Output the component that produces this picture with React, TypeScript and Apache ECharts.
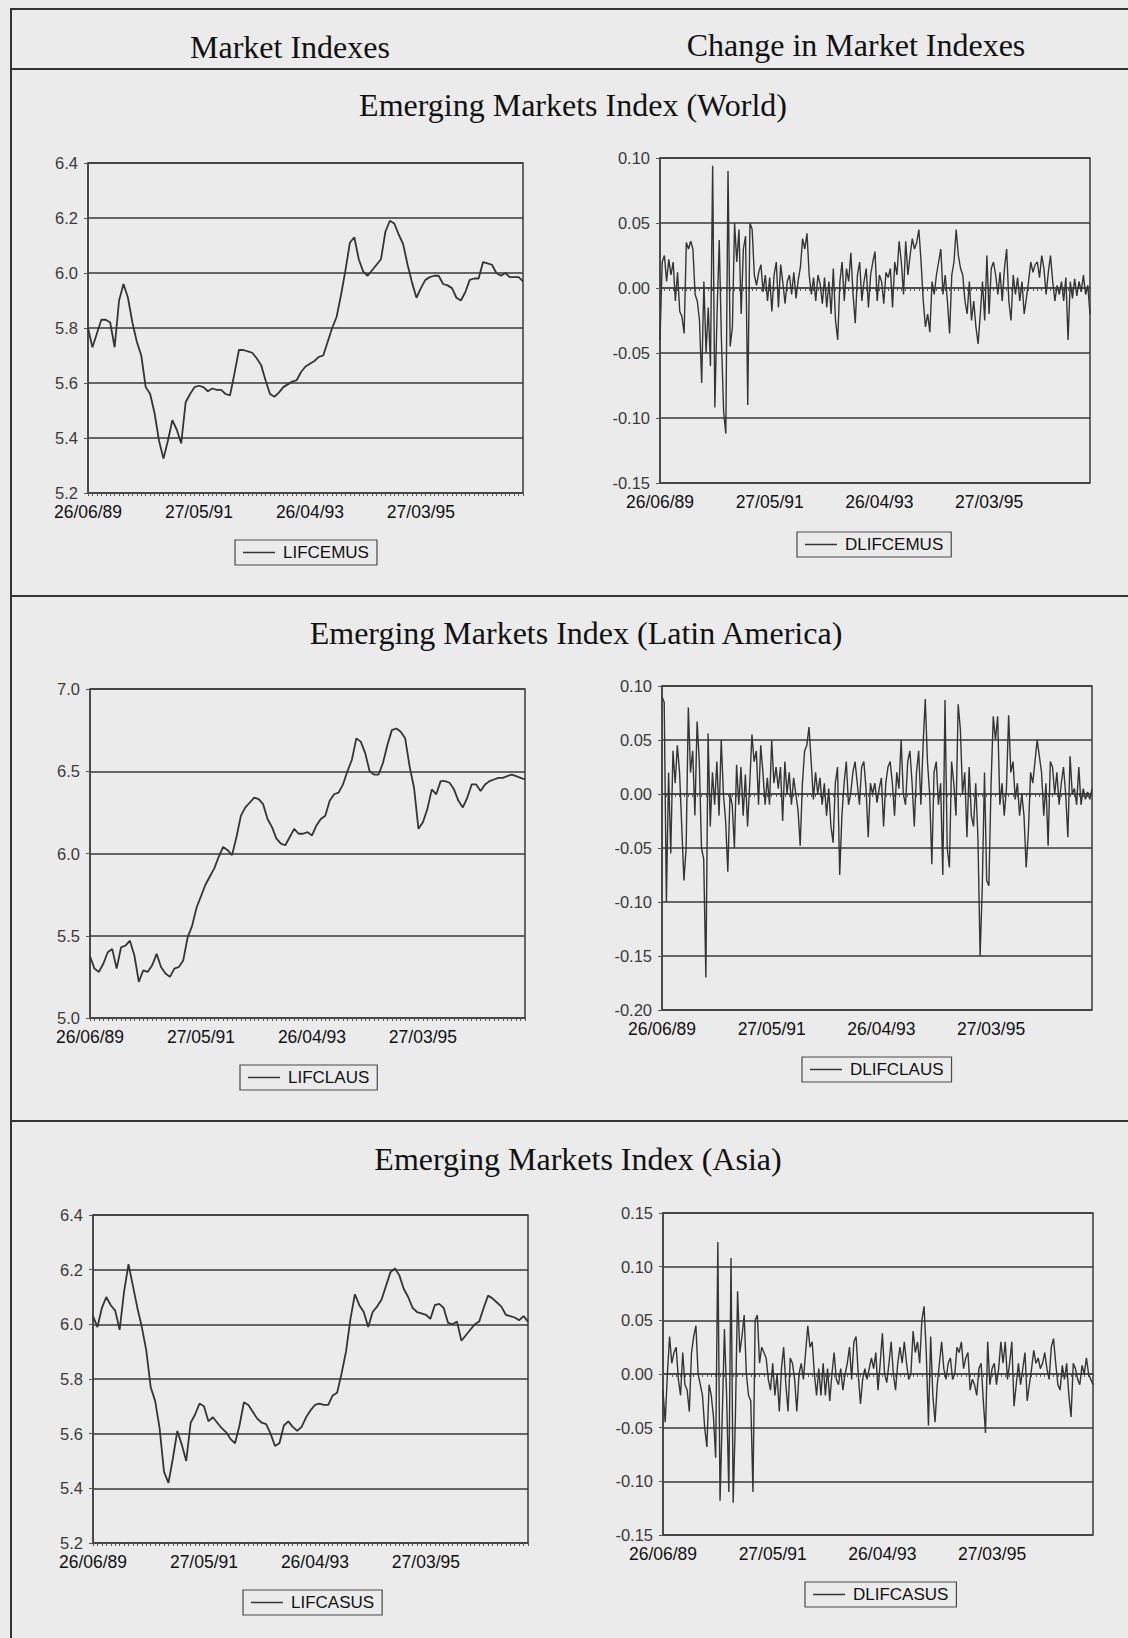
import React, { useEffect, useRef } from "react";
import * as echarts from "echarts";

// ---------- DATA ----------
// Level series: one value every 4 weeks from 26/06/89
const LIFCEMUS = [
  5.80, 5.73, 5.78, 5.83, 5.83, 5.82, 5.73, 5.90, 5.96, 5.91,
  5.82, 5.75, 5.70, 5.585, 5.56, 5.49, 5.39, 5.325, 5.39, 5.465,
  5.43, 5.38, 5.53, 5.56, 5.585, 5.59, 5.585, 5.57, 5.58, 5.575,
  5.575, 5.56, 5.555, 5.635, 5.72, 5.72, 5.715, 5.71, 5.69, 5.665,
  5.61, 5.56, 5.55, 5.565, 5.585, 5.595, 5.605, 5.61, 5.64, 5.66,
  5.67, 5.68, 5.695, 5.70, 5.75, 5.80, 5.84, 5.92, 6.01, 6.11,
  6.13, 6.05, 6.005, 5.99, 6.01, 6.03, 6.05, 6.15, 6.19, 6.18,
  6.14, 6.105, 6.03, 5.965, 5.91, 5.945, 5.975, 5.985, 5.99, 5.99,
  5.96, 5.955, 5.945, 5.91, 5.90, 5.93, 5.975, 5.98, 5.98, 6.04,
  6.035, 6.03, 6.00, 5.99, 6.00, 5.985, 5.985, 5.985, 5.97,
];
const LIFCLAUS = [
  5.375, 5.30, 5.28, 5.33, 5.40, 5.42, 5.30, 5.43, 5.44, 5.47,
  5.38, 5.22, 5.29, 5.28, 5.32, 5.39, 5.31, 5.27, 5.25, 5.30,
  5.31, 5.35, 5.49, 5.56, 5.67, 5.74, 5.81, 5.86, 5.91, 5.98,
  6.04, 6.02, 5.99, 6.10, 6.23, 6.28, 6.31, 6.34, 6.33, 6.30,
  6.21, 6.16, 6.09, 6.06, 6.05, 6.10, 6.15, 6.12, 6.12, 6.13,
  6.11, 6.17, 6.21, 6.23, 6.32, 6.36, 6.37, 6.42, 6.50, 6.57,
  6.70, 6.68, 6.61, 6.50, 6.48, 6.48, 6.55, 6.66, 6.75, 6.76,
  6.74, 6.70, 6.53, 6.40, 6.15, 6.19, 6.27, 6.39, 6.36, 6.44,
  6.44, 6.43, 6.39, 6.32, 6.28, 6.34, 6.42, 6.42, 6.38, 6.42,
  6.44, 6.45, 6.46, 6.46, 6.47, 6.48, 6.47, 6.46, 6.45,
];
const LIFCASUS = [
  6.03, 5.99, 6.06, 6.10, 6.07, 6.05, 5.98, 6.12, 6.22, 6.14,
  6.06, 5.99, 5.905, 5.77, 5.72, 5.62, 5.46, 5.42, 5.51, 5.61,
  5.56, 5.50, 5.64, 5.67, 5.71, 5.70, 5.645, 5.66, 5.64, 5.62,
  5.605, 5.58, 5.565, 5.63, 5.715, 5.705, 5.68, 5.655, 5.64, 5.635,
  5.60, 5.555, 5.565, 5.63, 5.645, 5.625, 5.61, 5.625, 5.66, 5.685,
  5.705, 5.71, 5.705, 5.705, 5.74, 5.75, 5.82, 5.90, 6.02, 6.11,
  6.07, 6.045, 5.99, 6.045, 6.065, 6.09, 6.14, 6.19, 6.205, 6.18,
  6.13, 6.10, 6.06, 6.045, 6.04, 6.035, 6.02, 6.07, 6.075, 6.06,
  6.005, 6.00, 6.01, 5.94, 5.96, 5.98, 6.00, 6.01, 6.06, 6.105,
  6.095, 6.08, 6.065, 6.035, 6.03, 6.025, 6.015, 6.03, 6.01,
];

// Changes: one value every 2 weeks from 26/06/89
const DLIFCEMUS = [
  -0.04, 0.02, 0.025, 0.005, 0.022, 0.01, 0.02, -0.01, 0.012, -0.018,
  -0.022, -0.035, 0.035, 0.03, 0.036, 0.03, -0.005, -0.01, -0.025, -0.073,
  0.005, -0.05, -0.015, -0.06, 0.094, -0.092, -0.02, 0.037, -0.04, -0.095,
  -0.112, 0.09, -0.045, -0.03, 0.05, 0.02, 0.045, -0.02, 0.03, 0.04,
  -0.09, 0.05, 0.045, 0.01, 0.002, 0.012, 0.018, -0.003, 0.01, -0.01,
  0.008, -0.018, 0.01, 0.02, -0.015, 0.018, 0.004, -0.012, 0.005, 0.01,
  -0.005, 0.012, -0.008, 0.006, 0.016, 0.038, 0.03, 0.042, 0.01, -0.005,
  0.008, -0.01, 0.01, 0.003, -0.012, 0.008, -0.015, 0.005, -0.02, 0.015,
  -0.025, -0.04, 0.005, 0.02, -0.01, 0.015, 0.005, 0.027, -0.005, -0.027,
  0.01, 0.02, -0.01, 0.005, 0.015, -0.015, 0.01, 0.02, 0.028, -0.01,
  0.01, 0.005, -0.012, 0.012, 0.008, 0.015, -0.015, 0.02, 0.01, 0.036,
  0.02, -0.005, 0.036, 0.01, 0.025, 0.038, 0.03, 0.035, 0.045, 0.02,
  -0.01, -0.03, -0.02, -0.034, 0.005, -0.005, 0.01, 0.02, 0.03, -0.005,
  0.01, -0.01, -0.035, 0.01, 0.02, 0.045, 0.025, 0.015, 0.01, -0.01,
  -0.02, 0.005, -0.025, -0.01, -0.03, -0.043, -0.02, 0.005, -0.025, 0.025,
  -0.02, 0.015, 0.02, 0.01, -0.005, 0.012, -0.01, 0.015, 0.03, -0.01,
  -0.025, 0.01, -0.005, 0.008, -0.01, 0.005, -0.02, -0.008, 0.005, 0.02,
  0.012, 0.018, 0.02, 0.008, 0.025, 0.015, -0.005, 0.012, 0.025, 0.005,
  -0.01, 0.002, -0.005, 0.005, -0.01, 0.008, -0.04, 0.005, -0.008, 0.007,
  -0.006, 0.005, -0.003, 0.01, -0.005, 0.002, -0.02,
];
const DLIFCLAUS = [
  0.09, 0.085, -0.10, 0.02, -0.055, 0.04, 0.01, 0.045, 0.02, -0.03,
  -0.08, -0.05, 0.08, 0.02, 0.04, -0.02, 0.067, 0.03, -0.05, -0.06,
  -0.17, 0.056, -0.03, 0.02, -0.01, 0.03, -0.02, 0.05, 0.0, -0.025,
  -0.072, 0.0, -0.01, -0.05, 0.027, -0.01, 0.025, -0.02, 0.018, -0.03,
  0.01, 0.055, 0.03, 0.04, -0.01, 0.045, 0.02, -0.01, 0.015, -0.01,
  0.05, 0.01, 0.025, 0.005, 0.025, -0.025, 0.03, 0.0, 0.02, -0.01,
  0.015, 0.0, -0.015, -0.048, 0.01, 0.04, 0.045, 0.062, 0.03, -0.005,
  0.02, 0.0, 0.015, -0.01, 0.01, -0.02, 0.005, -0.03, -0.045, 0.01,
  0.025, -0.075, -0.02, 0.01, 0.03, -0.01, 0.0, 0.02, 0.03, 0.01,
  -0.01, 0.025, 0.03, 0.005, -0.04, 0.01, 0.0, 0.01, -0.008, 0.005,
  0.015, -0.03, 0.01, 0.025, 0.03, 0.01, -0.02, 0.02, 0.005, 0.05,
  0.0, -0.01, 0.03, 0.04, 0.01, -0.03, 0.02, 0.04, -0.01, 0.045,
  0.088, 0.03, 0.0, -0.065, 0.02, 0.03, -0.01, 0.01, -0.075, 0.087,
  -0.05, -0.068, 0.03, 0.01, -0.02, 0.083, 0.06, 0.0, 0.02, -0.04,
  0.025, -0.02, -0.03, 0.01, -0.04, -0.15, -0.085, 0.02, -0.08, -0.085,
  0.01, 0.072, 0.05, 0.072, -0.01, 0.01, -0.02, 0.005, 0.073, 0.02,
  0.03, -0.005, 0.01, -0.02, 0.0, -0.02, -0.068, -0.035, 0.02, 0.01,
  0.03, 0.05, 0.035, 0.02, -0.02, 0.01, -0.048, 0.03, 0.025, 0.0,
  0.02, -0.01, 0.01, 0.025, 0.0, -0.04, 0.035, 0.0, 0.005, -0.01,
  0.025, -0.01, 0.005, -0.005, 0.002, -0.005, 0.005,
];
const DLIFCASUS = [
  -0.015, -0.045, 0.0, 0.035, 0.01, 0.02, 0.025, -0.005, -0.02, 0.02,
  -0.01, -0.015, -0.035, 0.02, 0.035, 0.045, 0.0, -0.01, -0.02, -0.05,
  -0.068, -0.01, -0.02, -0.04, -0.078, 0.123, -0.118, -0.04, 0.042, -0.02,
  -0.11, 0.108, -0.12, -0.04, 0.077, 0.02, 0.035, 0.055, 0.0, -0.02,
  -0.025, -0.11, 0.05, 0.055, 0.01, 0.025, 0.02, 0.015, -0.005, -0.015,
  0.01, -0.02, 0.0, -0.035, 0.005, 0.025, -0.01, -0.035, 0.015, 0.01,
  -0.005, -0.035, 0.0, 0.01, -0.005, 0.02, 0.045, 0.025, 0.03, 0.0,
  -0.02, 0.005, -0.02, 0.01, -0.02, 0.005, -0.025, 0.0, 0.02, -0.005,
  -0.01, 0.005, -0.015, 0.0, 0.01, 0.025, -0.005, 0.03, 0.035, 0.0,
  -0.028, -0.005, 0.005, -0.005, 0.005, 0.015, 0.005, 0.02, -0.015, 0.01,
  0.038, 0.0, -0.008, 0.01, 0.03, 0.0, -0.015, 0.01, 0.025, 0.01,
  0.03, 0.01, -0.005, 0.0, 0.04, 0.02, 0.03, 0.01, 0.05, 0.063,
  0.02, -0.048, 0.035, -0.02, -0.045, -0.01, 0.01, 0.03, 0.005, -0.005,
  0.01, 0.015, -0.005, 0.0, 0.025, 0.02, 0.03, 0.005, 0.015, 0.02,
  -0.015, -0.005, -0.01, -0.02, 0.005, 0.01, -0.025, -0.055, 0.03, -0.01,
  0.005, 0.01, -0.01, 0.005, 0.03, 0.01, 0.03, -0.005, 0.01, 0.03,
  -0.03, -0.01, 0.01, -0.01, 0.005, 0.02, -0.025, -0.01, 0.005, 0.022,
  0.01, 0.015, 0.005, 0.01, 0.02, 0.005, -0.005, 0.025, 0.033, 0.01,
  -0.01, -0.015, 0.008, -0.005, 0.01, -0.02, -0.04, 0.01, 0.005, -0.005,
  -0.01, 0.008, 0.0, 0.015, 0.0, -0.005, -0.01,
];

// Category (date) axes: 26/06/89 onwards, weekly data sampled every 4 / 2 weeks
function makeDates(n: number, stepDays: number): string[] {
  const start = Date.UTC(1989, 5, 26);
  const out: string[] = [];
  for (let i = 0; i < n; i++) {
    const d = new Date(start + i * stepDays * 86400000);
    const dd = String(d.getUTCDate()).padStart(2, "0");
    const mm = String(d.getUTCMonth() + 1).padStart(2, "0");
    const yy = String(d.getUTCFullYear() % 100).padStart(2, "0");
    out.push(`${dd}/${mm}/${yy}`);
  }
  return out;
}
const LEVEL_DATES = makeDates(LIFCEMUS.length, 28);
const DIFF_DATES = makeDates(DLIFCEMUS.length, 14);

const COLUMN_HEADERS = ["Market Indexes", "Change in Market Indexes"];
const SECTION_TITLES = [
  "Emerging Markets Index (World)",
  "Emerging Markets Index (Latin America)",
  "Emerging Markets Index (Asia)",
];

// ---------- LAYOUT ----------
const SANS = '"Liberation Sans", Arial, sans-serif';
const SERIF = '"Liberation Serif", "Times New Roman", serif';
const INK = "#353535";

const PANELS = [
  { name: "LIFCEMUS", data: LIFCEMUS, cats: LEVEL_DATES, grid: { left: 88, top: 163, width: 435, height: 330 }, y: [5.2, 6.4, 0.2, 1], legend: { left: 235, top: 540 }, tickInt: 0, labInt: 24 },
  { name: "DLIFCEMUS", data: DLIFCEMUS, cats: DIFF_DATES, grid: { left: 660, top: 158, width: 430, height: 325 }, y: [-0.15, 0.1, 0.05, 2], legend: { left: 797, top: 532 }, tickInt: 1, labInt: 49 },
  { name: "LIFCLAUS", data: LIFCLAUS, cats: LEVEL_DATES, grid: { left: 90, top: 689, width: 435, height: 329 }, y: [5.0, 7.0, 0.5, 1], legend: { left: 240, top: 1065 }, tickInt: 0, labInt: 24 },
  { name: "DLIFCLAUS", data: DLIFCLAUS, cats: DIFF_DATES, grid: { left: 662, top: 686, width: 430, height: 324 }, y: [-0.2, 0.1, 0.05, 2], legend: { left: 802, top: 1057 }, tickInt: 1, labInt: 49 },
  { name: "LIFCASUS", data: LIFCASUS, cats: LEVEL_DATES, grid: { left: 93, top: 1215, width: 435, height: 328 }, y: [5.2, 6.4, 0.2, 1], legend: { left: 243, top: 1590 }, tickInt: 0, labInt: 24 },
  { name: "DLIFCASUS", data: DLIFCASUS, cats: DIFF_DATES, grid: { left: 663, top: 1213, width: 430, height: 322 }, y: [-0.15, 0.15, 0.05, 2], legend: { left: 805, top: 1582 }, tickInt: 1, labInt: 49 },
];

function buildOption() {
  const grid: any[] = [];
  const xAxis: any[] = [];
  const yAxis: any[] = [];
  const series: any[] = [];
  const legend: any[] = [];
  PANELS.forEach((p, i) => {
    grid.push({ ...p.grid, show: true, borderColor: "#454545", borderWidth: 1.6, backgroundColor: "transparent" });
    xAxis.push({
      type: "category", gridIndex: i, data: p.cats, boundaryGap: false,
      axisLine: { lineStyle: { color: "#454545", width: 1.6 } },
      axisTick: { show: true, interval: p.tickInt, length: 3, lineStyle: { color: "#555", width: 1 } },
      axisLabel: { interval: p.labInt, fontFamily: SANS, fontSize: 17.5, color: "#111", margin: 10 },
      splitLine: { show: false },
    });
    const [mn, mx, iv, dec] = p.y as number[];
    yAxis.push({
      type: "value", gridIndex: i, min: mn, max: mx, interval: iv,
      axisLine: { show: true, lineStyle: { color: "#454545", width: 1.6 } },
      axisTick: { show: true, length: 4, lineStyle: { color: "#555", width: 1 } },
      axisLabel: {
        fontFamily: SANS, fontSize: 16.5, color: "#3a3a3a", margin: 10,
        formatter: (v: number) => (Math.abs(v) < 1e-9 ? 0 : v).toFixed(dec),
      },
      splitLine: { show: true, lineStyle: { color: "#383838", width: 1.6 } },
    });
    series.push({
      name: p.name, type: "line", xAxisIndex: i, yAxisIndex: i, data: p.data,
      symbol: "none", lineStyle: { color: INK, width: i % 2 === 0 ? 1.8 : 1.4 },
      itemStyle: { color: INK }, z: 3,
    });
    legend.push({
      data: [p.name], left: p.legend.left, top: p.legend.top, orient: "horizontal",
      icon: "rect", itemWidth: 32, itemHeight: 1.5, selectedMode: false,
      borderColor: "#4a4a4a", borderWidth: 1.2, padding: [4, 8, 4, 8],
      textStyle: { fontFamily: SANS, fontSize: 17, color: "#111", padding: [0, 0, 0, 3] },
    });
  });

  const lineEl = (x1: number, y1: number, x2: number, y2: number) => ({
    type: "line", shape: { x1, y1, x2, y2 }, style: { stroke: "#333", lineWidth: 2 }, silent: true,
  });
  const textEl = (t: string, x: number, y: number) => ({
    type: "text", x, y, silent: true,
    style: { text: t, font: `32px ${SERIF}`, fill: "#111", textAlign: "center", textVerticalAlign: "middle", align: "center", verticalAlign: "middle" },
  });

  const graphic = [
    lineEl(10, 9, 1128, 9),
    lineEl(11, 9, 11, 1638),
    lineEl(11, 69, 1128, 69),
    lineEl(11, 596, 1128, 596),
    lineEl(11, 1121, 1128, 1121),
    textEl(COLUMN_HEADERS[0], 290, 47),
    textEl(COLUMN_HEADERS[1], 856, 45),
    textEl(SECTION_TITLES[0], 573, 105),
    textEl(SECTION_TITLES[1], 576, 633),
    textEl(SECTION_TITLES[2], 578, 1159),
  ];

  return {
    animation: false,
    backgroundColor: "#ebebeb",
    grid, xAxis, yAxis, series, legend, graphic,
  };
}

export default function App() {
  const ref = useRef<HTMLDivElement>(null);
  useEffect(() => {
    if (!ref.current) return;
    const chart = echarts.init(ref.current, undefined, { renderer: "svg" });
    chart.setOption(buildOption() as any);
    return () => chart.dispose();
  }, []);
  return (
    <div
      ref={ref}
      style={{ position: "absolute", left: 0, top: 0, width: 1128, height: 1638, background: "#ebebeb" }}
    />
  );
}
